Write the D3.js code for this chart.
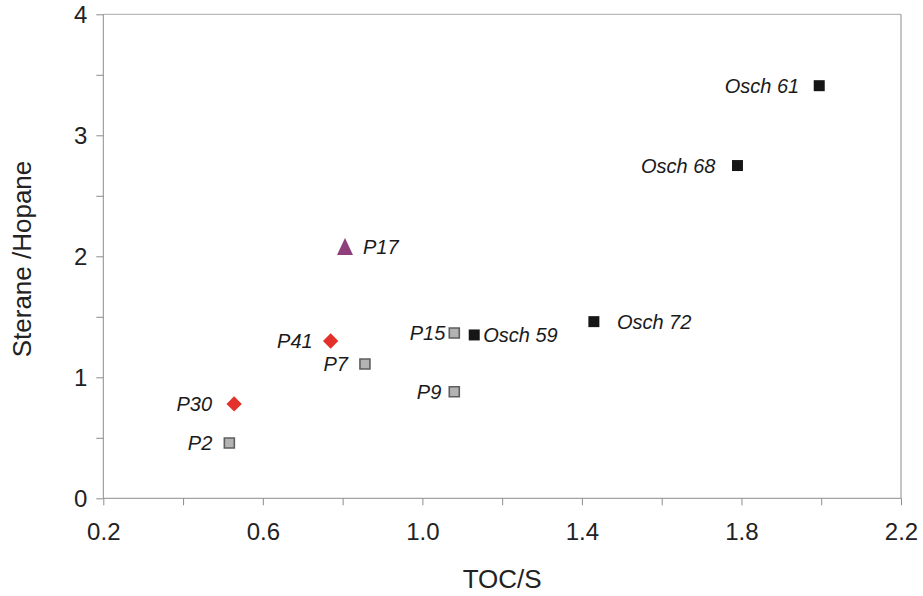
<!DOCTYPE html>
<html>
<head>
<meta charset="utf-8">
<script src="https://cdn.jsdelivr.net/npm/d3@7"></script>
<style>
  html, body { margin: 0; padding: 0; background: #fff; }
  svg { display: block; font-family: "Liberation Sans", Arial, sans-serif; }
</style>
</head>
<body>
<svg id="chart" width="923" height="596"></svg>
<script>
// Samples: TOC/S vs Sterane/Hopane
const samples = ["Osch 61", "Osch 68", "Osch 72", "Osch 59", "P15", "P9", "P7", "P41", "P17", "P30", "P2"];
const tocS    = [1.995, 1.79, 1.43, 1.13, 1.08, 1.08, 0.856, 0.77, 0.806, 0.528, 0.516];
const sterHop = [3.41, 2.75, 1.46, 1.35, 1.366, 0.88, 1.11, 1.30, 2.08, 0.78, 0.457];
const groups  = ["osch", "osch", "osch", "osch", "grey", "grey", "grey", "red", "tri", "red", "grey"];

// Axis ticks and labels
const xTicks = [0.2, 0.4, 0.6, 0.8, 1.0, 1.2, 1.4, 1.6, 1.8, 2.0, 2.2];
const xTickLabels = ["0.2", "0.6", "1.0", "1.4", "1.8", "2.2"];
const yTicks = [0, 0.5, 1, 1.5, 2, 2.5, 3, 3.5, 4];
const yTickLabels = ["0", "1", "2", "3", "4"];

// Label placement: horizontal offset from the marker (negative = label on the left)
const labelDx = [-20, -22, 23, 9, -9, -13, -17, -18, 18, -22, -17];

const svg = d3.select("#chart");
const plot = { left: 103.3, right: 901, top: 14.3, bottom: 498.3 };

const x = d3.scaleLinear().domain([0.2, 2.2]).range([plot.left, plot.right]);
const y = d3.scaleLinear().domain([0, 4]).range([plot.bottom, plot.top]);

const axisColor = "#8c8c8c";

// Frame: top and right borders
svg.append("line")
  .attr("x1", plot.left).attr("x2", plot.right)
  .attr("y1", plot.top).attr("y2", plot.top)
  .attr("stroke", "#a8a8a8").attr("stroke-width", 1);
svg.append("line")
  .attr("x1", plot.right).attr("x2", plot.right)
  .attr("y1", plot.top).attr("y2", plot.bottom)
  .attr("stroke", axisColor).attr("stroke-width", 1);

// X axis
const xAxis = d3.axisBottom(x)
  .tickValues(xTicks)
  .tickSize(7)
  .tickFormat(d => {
    const s = d3.format(".1f")(d);
    return xTickLabels.includes(s) ? s : "";
  });
const gx = svg.append("g")
  .attr("transform", `translate(0,${plot.bottom})`)
  .call(xAxis);
gx.select(".domain").attr("stroke", axisColor).attr("d", `M${plot.left},0H${plot.right}`);
gx.selectAll(".tick line").attr("stroke", axisColor);
gx.selectAll(".tick text")
  .attr("fill", "#222")
  .attr("font-size", 24)
  .attr("font-family", "'Liberation Sans', Arial, sans-serif")
  .attr("y", 0).attr("dy", 0)
  .attr("transform", "translate(0,42)");

// Y axis
const yAxis = d3.axisLeft(y)
  .tickValues(yTicks)
  .tickSize(7)
  .tickFormat(d => yTickLabels.includes(String(d)) ? String(d) : "");
const gy = svg.append("g")
  .attr("transform", `translate(${plot.left},0)`)
  .call(yAxis);
gy.select(".domain").attr("stroke", axisColor).attr("d", `M0,${plot.top}V${plot.bottom}`);
gy.selectAll(".tick line").attr("stroke", axisColor);
gy.selectAll(".tick text")
  .attr("fill", "#222")
  .attr("font-size", 24)
  .attr("font-family", "'Liberation Sans', Arial, sans-serif")
  .attr("x", -16)
  .attr("dy", "0.36em");

// Axis titles
svg.append("text")
  .attr("x", (plot.left + plot.right) / 2)
  .attr("y", 588)
  .attr("text-anchor", "middle")
  .attr("font-size", 26)
  .attr("fill", "#222")
  .text("TOC/S");
svg.append("text")
  .attr("transform", "translate(31,259) rotate(-90)")
  .attr("text-anchor", "middle")
  .attr("font-size", 26)
  .attr("fill", "#222")
  .text("Sterane /Hopane");

// Points
const data = samples.map((s, i) => ({ name: s, x: tocS[i], y: sterHop[i], g: groups[i], dx: labelDx[i] }));

const marks = svg.append("g");
marks.selectAll("path")
  .data(data)
  .join("path")
  .attr("transform", d => `translate(${x(d.x)},${y(d.y)})`)
  .attr("d", d => {
    if (d.g === "red") return d3.symbol(d3.symbolDiamond2, 150)();
    if (d.g === "tri") {
      // triangle whose bounding box is centred on the point
      return "M0,-8.5L8,8.5L-8,8.5Z";
    }
    if (d.g === "osch") return "M-5.5,-5.5H5.5V5.5H-5.5Z";
    return "M-5,-5H5V5H-5Z";
  })
  .attr("fill", d => d.g === "red" ? "#e3302a" : d.g === "tri" ? "#8e3f7c" : d.g === "osch" ? "#161616" : "#b3b3b3")
  .attr("stroke", d => d.g === "grey" ? "#5e5e5e" : "none")
  .attr("stroke-width", d => d.g === "grey" ? 1.6 : 0);

// Point labels
svg.append("g")
  .selectAll("text")
  .data(data)
  .join("text")
  .attr("x", d => x(d.x) + d.dx)
  .attr("y", d => y(d.y))
  .attr("dy", "0.36em")
  .attr("text-anchor", d => d.dx < 0 ? "end" : "start")
  .attr("font-size", 20)
  .attr("font-style", "italic")
  .attr("fill", "#1a1a1a")
  .text(d => d.name);
</script>
</body>
</html>
